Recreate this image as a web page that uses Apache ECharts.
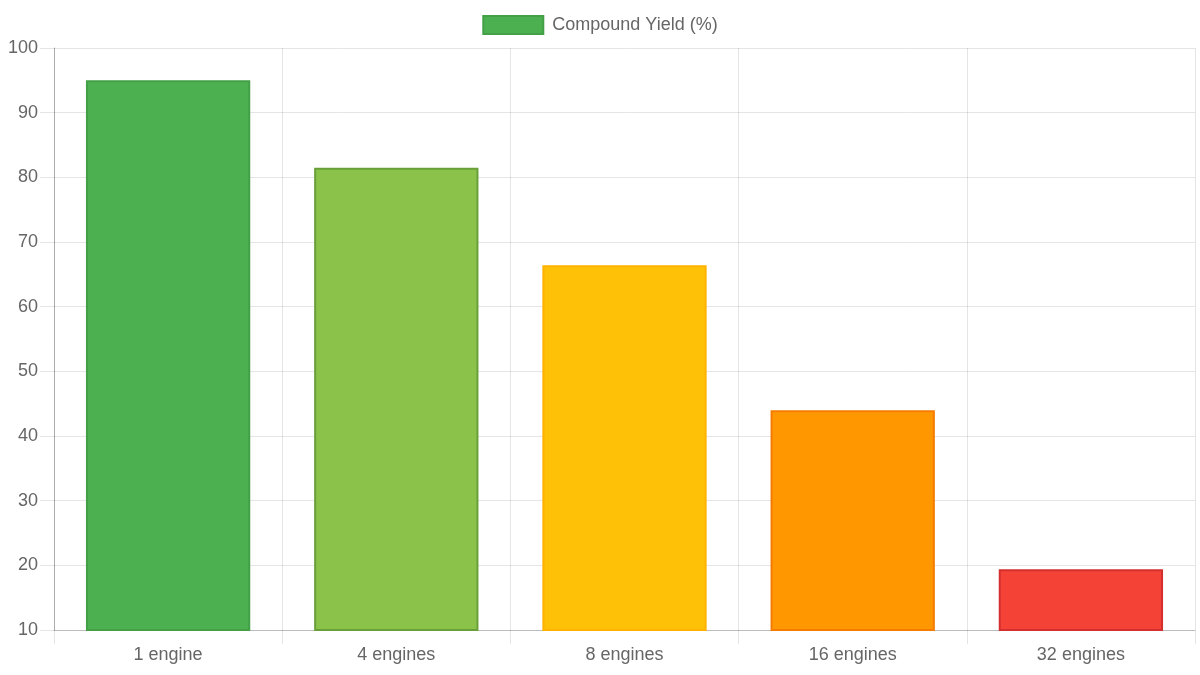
<!DOCTYPE html>
<html><head><meta charset="utf-8">
<script src="https://cdn.jsdelivr.net/npm/echarts@6/dist/echarts.min.js"></script>
<style>html,body{margin:0;padding:0;background:#fff}#c{width:1200px;height:675px}</style>
</head><body><div id="c"></div>
<script>
const categories = ['1 engine', '4 engines', '8 engines', '16 engines', '32 engines'];
const yieldValues = [95.0, 81.5, 66.4, 44.0, 19.4];
const fillColors = ['#4CAF50', '#8BC34A', '#FFC107', '#FF9800', '#F44336'];
const borderColors = ['#43A047', '#689F38', '#FFB300', '#F57C00', '#D32F2F'];
const seriesName = 'Compound Yield (%)';

const chart = echarts.init(document.getElementById('c'));
const font = 'Liberation Sans, Arial, sans-serif';
chart.setOption({
  animation: false,
  legend: {
    top: 10, left: 'center', itemWidth: 60, itemHeight: 18, itemGap: 10,
    textStyle: { fontFamily: font, fontSize: 18, color: '#666', padding: [0, 0, 0, 4] },
    data: [{ name: seriesName, icon: 'rect', itemStyle: { color: '#4CAF50', borderColor: '#43A047', borderWidth: 2 } }]
  },
  grid: { left: 54, right: 5, top: 48, bottom: 45, containLabel: false },
  xAxis: {
    type: 'category', data: categories, boundaryGap: true,
    axisLine: { lineStyle: { color: 'rgba(0,0,0,0.18)', width: 1 } },
    axisTick: { show: true, length: 14, lineStyle: { color: 'rgba(0,0,0,0.1)' } },
    splitLine: { show: true, lineStyle: { color: 'rgba(0,0,0,0.1)' } },
    axisLabel: { fontFamily: font, fontSize: 18, color: '#666', margin: 16 }
  },
  yAxis: {
    type: 'value', min: 10, max: 100, interval: 10,
    axisLine: { show: true, lineStyle: { color: 'rgba(0,0,0,0.25)', width: 1 } },
    axisTick: { show: true, length: 14, lineStyle: { color: 'rgba(0,0,0,0.1)' } },
    splitLine: { show: true, lineStyle: { color: 'rgba(0,0,0,0.1)' } },
    axisLabel: { fontFamily: font, fontSize: 18, color: '#666', margin: 16 }
  },
  series: [{
    name: seriesName, type: 'bar', barWidth: '72%',
    data: yieldValues.map((v, i) => ({ value: v, itemStyle: { color: fillColors[i], borderColor: borderColors[i], borderWidth: 2 } }))
  }]
});
</script></body></html>
